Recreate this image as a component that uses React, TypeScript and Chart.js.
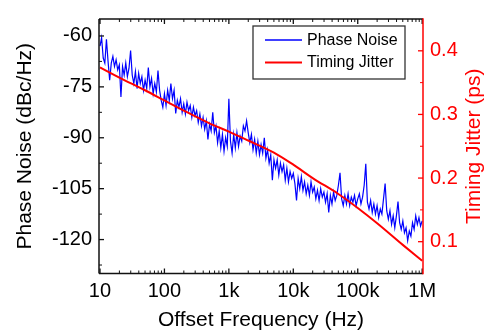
import React, { useEffect, useRef } from "react";
import { Chart, registerables } from "chart.js";

Chart.register(...registerables);

const FONT = "'Liberation Sans', Arial, Helvetica, sans-serif";

// X axis (log) ticks
const X_TICKS = [10, 100, 1000, 10000, 100000, 1000000];
const X_TICK_LABELS = ["10", "100", "1k", "10k", "100k", "1M"];
const X_MINOR_MULTIPLIERS = [2, 3, 4, 5, 6, 7, 8, 9];

// Left axis (phase noise) ticks
const PN_TICKS = [-120, -105, -90, -75, -60];
// Right axis (timing jitter) ticks
const TJ_TICKS = [0.1, 0.2, 0.3, 0.4];

// Phase noise readings (dBc/Hz), 40 samples per decade, log-spaced
const PN_DECADE_10 = [-63, -60.5, -66.5, -68, -61, -67.5, -73, -68, -66, -69, -67, -70, -68.5, -78, -69, -71.5, -68, -72, -69.5, -64.3, -71.5, -74, -70.5, -75.5, -71, -74, -72, -76, -73, -75.5, -69.3, -75, -72.5, -77, -74, -76.5, -70.2, -76, -79, -81];
const PN_DECADE_100 = [-77, -80.5, -76, -79, -74, -78.5, -76, -82.8, -79, -81, -78.5, -82.5, -80, -83, -79.5, -82, -80.5, -84, -81, -83.5, -82, -85.5, -83, -86.5, -84, -87.5, -85, -90.5, -86, -88, -82.5, -88.5, -86.5, -91.5, -88, -93, -89, -94, -90, -92.5];
const PN_DECADE_1K = [-78.5, -91, -94.5, -89, -93, -88.5, -92.5, -89.5, -91, -86.5, -88, -85, -88.5, -91.5, -89, -93.5, -90.5, -94.5, -91, -95, -92, -94.5, -90, -96, -93.5, -97.5, -95, -102.5, -96.5, -99, -96.5, -101, -97.5, -100, -98, -102.5, -99, -103, -100, -102];
const PN_DECADE_10K = [-100.5, -103.5, -108.5, -102, -105, -101.5, -105.5, -103, -106.5, -104, -107, -103, -106, -104.5, -108, -105.5, -108.5, -105, -107.5, -106, -109, -106.5, -112, -107, -109.5, -106, -108.5, -107, -104, -100.3, -108, -110, -107, -109.5, -106.5, -110, -107.5, -109, -107, -110];
const PN_DECADE_100K = [-108, -106.5, -109.5, -107.5, -104, -97.7, -109, -111, -108.5, -112, -109.5, -112.5, -110, -113.5, -111, -112.5, -108, -103.5, -111.5, -114, -111.5, -115.5, -113, -116.5, -113, -108.8, -115, -117, -114.5, -118, -116.5, -120.3, -117.5, -119, -115, -117, -113, -115.5, -113.5, -116];
const PN_AT_1M = -114.5;
const PN_START_DECADE = 1; // log10(10)
const PN_PER_DECADE = 40;

// Timing jitter (ps) readings
const TJ_FREQ = [10, 20, 50, 100, 200, 500, 1000, 2000, 5000, 10000, 20000, 50000, 100000, 200000, 500000, 1000000];
const TJ_PS = [0.374, 0.358, 0.338, 0.322, 0.306, 0.286, 0.273, 0.259, 0.24, 0.221, 0.2, 0.175, 0.153, 0.129, 0.095, 0.07];

const PN_VALUES = [...PN_DECADE_10, ...PN_DECADE_100, ...PN_DECADE_1K, ...PN_DECADE_10K, ...PN_DECADE_100K, PN_AT_1M];

const framePlugin = {
  id: "frameTicks",
  afterDraw(chart: any) {
    const { ctx, chartArea } = chart;
    const { left, right, top, bottom } = chartArea;
    const x = chart.scales.x;
    const y = chart.scales.y;
    const y1 = chart.scales.y1;
    ctx.save();
    const line = (x0: number, y0: number, x1: number, y1_: number) => {
      ctx.beginPath();
      ctx.moveTo(x0, y0);
      ctx.lineTo(x1, y1_);
      ctx.stroke();
    };
    // x ticks top & bottom
    ctx.strokeStyle = "#111";
    ctx.lineWidth = 1.3;
    X_TICKS.forEach((v) => {
      const p = x.getPixelForValue(v);
      line(p, bottom, p, bottom - 5);
      line(p, top, p, top + 5);
    });
    ctx.lineWidth = 1;
    X_TICKS.forEach((dec) => {
      X_MINOR_MULTIPLIERS.forEach((m) => {
        const v = dec * m;
        if (v < x.min || v > x.max) return;
        const p = x.getPixelForValue(v);
        line(p, bottom, p, bottom - 3);
        line(p, top, p, top + 3);
      });
    });
    // left ticks
    ctx.lineWidth = 1.3;
    PN_TICKS.forEach((v) => {
      const p = y.getPixelForValue(v);
      line(left, p, left + 5, p);
    });
    ctx.lineWidth = 1;
    const pnStep = PN_TICKS[1] - PN_TICKS[0];
    for (let v = PN_TICKS[0] - pnStep / 2; v <= y.max; v += pnStep) {
      if (v < y.min) continue;
      const p = y.getPixelForValue(v);
      line(left, p, left + 3, p);
    }
    // right ticks (red)
    ctx.strokeStyle = "#ff0000";
    ctx.lineWidth = 1.3;
    TJ_TICKS.forEach((v) => {
      const p = y1.getPixelForValue(v);
      line(right, p, right - 5, p);
    });
    ctx.lineWidth = 1;
    const tjStep = TJ_TICKS[1] - TJ_TICKS[0];
    for (let v = TJ_TICKS[0] - tjStep / 2; v <= y1.max + 1e-9; v += tjStep) {
      if (v < y1.min + 1e-6 || v > y1.max - 1e-6) continue;
      const p = y1.getPixelForValue(v);
      line(right, p, right - 3, p);
    }
    // frame
    ctx.lineWidth = 1.5;
    ctx.strokeStyle = "#111";
    line(left, top, right, top);
    line(left, top, left, bottom);
    line(left, bottom, right, bottom);
    ctx.strokeStyle = "#ff0000";
    line(right, top - 0.75, right, bottom + 0.75);

    // right axis title (reads bottom to top)
    ctx.fillStyle = "#ff0000";
    ctx.font = `21px ${FONT}`;
    ctx.textAlign = "center";
    ctx.textBaseline = "middle";
    ctx.translate(474, (top + bottom) / 2);
    ctx.rotate(-Math.PI / 2);
    ctx.fillText("Timing Jitter (ps)", 0, 0);
    ctx.restore();

    // legend
    ctx.save();
    const lx = 253, ly = 26, lw = 152, lh = 53;
    ctx.fillStyle = "#ffffff";
    ctx.fillRect(lx, ly, lw, lh);
    ctx.strokeStyle = "#333";
    ctx.lineWidth = 1.3;
    ctx.strokeRect(lx, ly, lw, lh);
    ctx.font = `16px ${FONT}`;
    ctx.textAlign = "left";
    ctx.textBaseline = "middle";
    const rows = [40, 62.5];
    chart.data.datasets.forEach((ds: any, i: number) => {
      const ry = rows[i];
      ctx.strokeStyle = ds.borderColor;
      ctx.lineWidth = Math.max(1.4, ds.borderWidth);
      ctx.beginPath();
      ctx.moveTo(265, ry);
      ctx.lineTo(302, ry);
      ctx.stroke();
      ctx.fillStyle = "#000";
      ctx.fillText(ds.label, 307, ry + 0.5);
    });
    ctx.restore();
  },
};

export default function App() {
  const ref = useRef<HTMLCanvasElement | null>(null);
  useEffect(() => {
    if (!ref.current) return;
    const pnPoints = PN_VALUES.map((v, i) => ({ x: Math.pow(10, PN_START_DECADE + i / PN_PER_DECADE), y: v }));
    const tjPoints = TJ_FREQ.map((f, i) => ({ x: f, y: TJ_PS[i] }));
    const chart = new Chart(ref.current, {
      type: "line",
      data: {
        datasets: [
          {
            label: "Phase Noise",
            data: pnPoints,
            yAxisID: "y",
            borderColor: "#0000ff",
            borderWidth: 1.2,
            pointRadius: 0,
            tension: 0,
            order: 1,
          },
          {
            label: "Timing Jitter",
            data: tjPoints,
            yAxisID: "y1",
            borderColor: "#ff0000",
            borderWidth: 2,
            pointRadius: 0,
            cubicInterpolationMode: "monotone",
            order: 0,
          },
        ],
      },
      options: {
        animation: false,
        responsive: false,
        maintainAspectRatio: false,
        layout: { padding: { top: 14, left: 0, right: 0, bottom: 0 } },
        plugins: { legend: { display: false }, tooltip: { enabled: false } },
        scales: {
          x: {
            type: "logarithmic",
            position: "bottom",
            min: 9.65,
            max: 1.03e6,
            afterBuildTicks: (s: any) => {
              s.ticks = X_TICKS.map((v) => ({ value: v, major: true }));
            },
            afterFit: (s: any) => {
              s.height = 57.5;
            },
            grid: { display: false, drawTicks: false },
            border: { display: false },
            ticks: {
              autoSkip: false,
              maxRotation: 0,
              padding: 6,
              color: "#000",
              font: { family: FONT, size: 20 },
              callback: (v: any) => {
                const i = X_TICKS.indexOf(Number(v));
                return i >= 0 ? X_TICK_LABELS[i] : "";
              },
            },
            title: {
              display: true,
              text: "Offset Frequency (Hz)",
              color: "#000",
              font: { family: FONT, size: 21, lineHeight: 1 },
              padding: { top: 0, bottom: 0 },
            },
          },
          y: {
            type: "linear",
            position: "left",
            min: -130,
            max: -55,
            afterBuildTicks: (s: any) => {
              s.ticks = PN_TICKS.map((v) => ({ value: v }));
            },
            afterFit: (s: any) => {
              s.width = 99;
            },
            grid: { display: false, drawTicks: false },
            border: { display: false },
            ticks: {
              padding: 7,
              color: "#000",
              font: { family: FONT, size: 20 },
              callback: (v: any) => String(v),
            },
            title: {
              display: true,
              text: "Phase Noise (dBc/Hz)",
              color: "#000",
              font: { family: FONT, size: 21, lineHeight: 1.2 },
              padding: { top: 12.7, bottom: 0 },
            },
          },
          y1: {
            type: "linear",
            position: "right",
            min: 0.05,
            max: 0.45,
            afterBuildTicks: (s: any) => {
              s.ticks = TJ_TICKS.map((v) => ({ value: v }));
            },
            afterFit: (s: any) => {
              s.width = 66;
            },
            grid: { display: false, drawTicks: false },
            border: { display: false },
            ticks: {
              padding: 7,
              color: "#ff0000",
              font: { family: FONT, size: 20 },
              callback: (v: any) => Number(v).toFixed(1),
            },
          },
        },
      },
      plugins: [framePlugin],
    } as any);
    return () => chart.destroy();
  }, []);
  return (
    <div style={{ position: "fixed", left: 0, top: 0, width: 489, height: 331, background: "#fff" }}>
      <canvas ref={ref} width={489} height={331} style={{ display: "block", width: 489, height: 331 }} />
    </div>
  );
}
